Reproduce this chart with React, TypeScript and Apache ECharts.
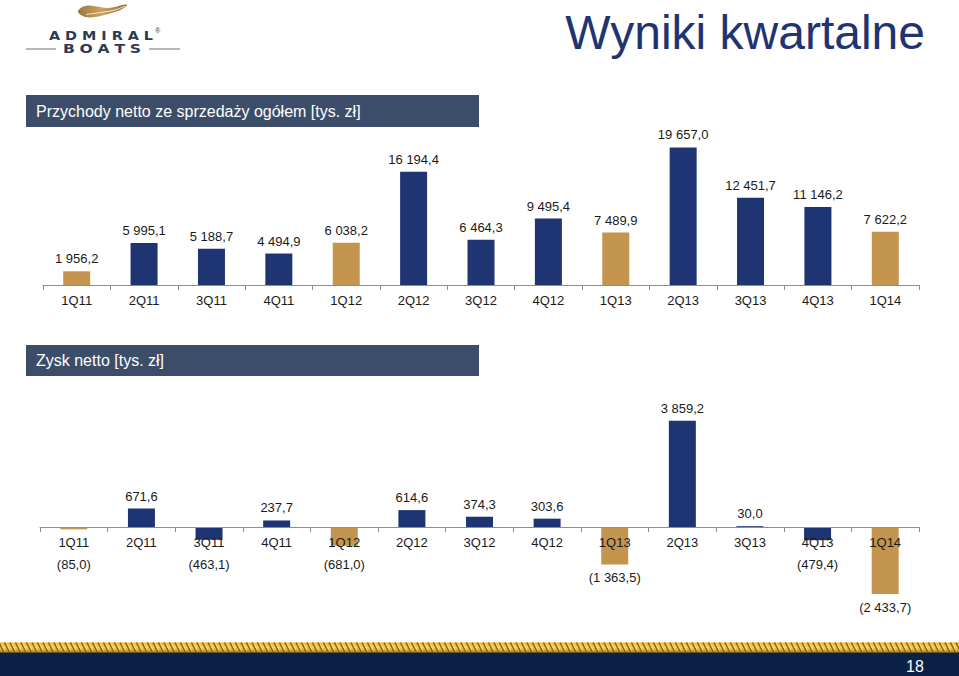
import React, { useEffect, useRef } from "react";
import * as echarts from "echarts";

const quarters = ["1Q11", "2Q11", "3Q11", "4Q11", "1Q12", "2Q12", "3Q12", "4Q12", "1Q13", "2Q13", "3Q13", "4Q13", "1Q14"];
const revenue = [1956.2, 5995.1, 5188.7, 4494.9, 6038.2, 16194.4, 6464.3, 9495.4, 7489.9, 19657.0, 12451.7, 11146.2, 7622.2];
const netProfit = [-85.0, 671.6, -463.1, 237.7, -681.0, 614.6, 374.3, 303.6, -1363.5, 3859.2, 30.0, -479.4, -2433.7];
const titleText = "Wyniki kwartalne";
const revenueHeader = "Przychody netto ze sprzedaży ogółem [tys. zł]";
const profitHeader = "Zysk netto [tys. zł]";
const pageNumber = "18";
const logoTop = "ADMIRAL";
const logoBottom = "BOATS";

const NAVY = "#1f3472";
const GOLD = "#c4954f";
const HEADER = "#3c4d69";
const TEXT = "#1a1a1a";
const FONT = "'Liberation Sans', Arial, sans-serif";

const P_GRID_H = 178.75;
const P_MIN = -2500;
const P_MAX = 4000;

function fmt(v: number): string {
  const a = Math.abs(v).toFixed(1);
  const [i, d] = a.split(".");
  const ii = i.replace(/\B(?=(\d{3})+(?!\d))/g, " ");
  const s = ii + "," + d;
  return v < 0 ? `(${s})` : s;
}

const barColor = (q: string) => (q.startsWith("1Q") ? GOLD : NAVY);

let shapesRegistered = false;
function registerShapes() {
  if (shapesRegistered) return;
  shapesRegistered = true;
  const wave =
    "M0.7,8 C3,4 8,2 14,2.5 C22,3 28,6 36,4 C41,3 46,1 49.5,1.5 C46,6 40,8 34,9.5 C24,12 18,14 12,13.7 C6,13.5 2,11 0.7,8 Z";
  echarts.graphic.registerShape("wave", (echarts.graphic as any).extendPath(wave, {}));
  const streak = "M9,11 C18,9.5 28,9 36,7 C40,6 44,4.5 47,3";
  echarts.graphic.registerShape("streak", (echarts.graphic as any).extendPath(streak, {}));
  let d = "";
  for (let x = -12; x < 975; x += 5.5) d += `M${x},0 L${x + 5},10 `;
  echarts.graphic.registerShape("rope", (echarts.graphic as any).extendPath(d, {}));
  let h = "";
  for (let x = -10; x < 975; x += 5.5) h += `M${x},1 L${x + 3.5},8 `;
  echarts.graphic.registerShape("ropeHi", (echarts.graphic as any).extendPath(h, {}));
}

function measure(text: string, font: string): number {
  const c = document.createElement("canvas").getContext("2d");
  if (!c) return text.length * 8;
  c.font = font;
  return c.measureText(text).width;
}

function spacedLetters(text: string, x0: number, x1: number, y: number, size: number, sx: number, color: string) {
  const font = `bold ${size}px 'DejaVu Sans'`;
  const widths = text.split("").map((ch) => measure(ch, font) * sx);
  const total = widths.reduce((a, b) => a + b, 0);
  const gap = (x1 - x0 - total) / (text.length - 1);
  let x = x0;
  return text.split("").map((ch, i) => {
    const el = {
      type: "text",
      x,
      y,
      scaleX: sx,
      style: { text: ch, fill: color, font, textAlign: "left", textVerticalAlign: "middle" },
    };
    x += widths[i] + gap;
    return el;
  });
}

function buildOption(): any {
  const pxPer = P_GRID_H / (P_MAX - P_MIN);
  const zeroOffset = -(0 - P_MIN) * pxPer;
  const labelBase = { show: true, formatter: (p: any) => fmt(p.value), fontSize: 13, color: TEXT, fontFamily: FONT };

  const revData = revenue.map((v, i) => ({ value: v, itemStyle: { color: barColor(quarters[i]) } }));
  const profData = netProfit.map((v, i) => {
    const barPx = Math.abs(v) * pxPer;
    return {
      value: v,
      itemStyle: { color: barColor(quarters[i]) },
      label: v < 0 ? { position: "bottom", distance: Math.max(7, 30.5 - barPx) } : { position: "top", distance: 6 },
    };
  });

  const xAxisBase = {
    type: "category",
    data: quarters,
    axisLine: { onZero: false, lineStyle: { color: "#8d8d8d", width: 1 } },
    axisTick: { show: true, length: 5, lineStyle: { color: "#8d8d8d" } },
    axisLabel: { color: TEXT, fontSize: 13, fontFamily: FONT, margin: 9 },
    splitLine: { show: false },
    z: 5,
  };

  const graphics: any[] = [
    // title
    {
      type: "text",
      right: 34,
      top: 8,
      style: { text: titleText, fill: "#1f3470", font: `48px ${FONT}` },
    },
    // header bars
    { type: "rect", shape: { x: 26, y: 95, width: 453, height: 32 }, style: { fill: HEADER } },
    {
      type: "text",
      x: 36,
      y: 111,
      style: { text: revenueHeader, fill: "#ffffff", font: `16px ${FONT}`, textVerticalAlign: "middle" },
    },
    { type: "rect", shape: { x: 26, y: 345, width: 453, height: 31 }, style: { fill: HEADER } },
    {
      type: "text",
      x: 36,
      y: 360.5,
      style: { text: profitHeader, fill: "#ffffff", font: `16px ${FONT}`, textVerticalAlign: "middle" },
    },
    // logo
    {
      type: "wave",
      x: 77,
      y: 3,
      scaleX: 1.02,
      scaleY: 1.05,
      style: {
        fill: new (echarts.graphic as any).LinearGradient(0, 0, 1, 0, [
          { offset: 0, color: "#a07a3c" },
          { offset: 0.5, color: "#c9a264" },
          { offset: 1, color: "#8c6a34" },
        ]),
      },
    },
    { type: "streak", x: 77, y: 3, scaleX: 1.02, scaleY: 1.05, style: { fill: null, stroke: "#f3e4c6", lineWidth: 1 } },
    { type: "line", shape: { x1: 26, y1: 49, x2: 56, y2: 49 }, style: { stroke: "#8b909a", lineWidth: 1.3 } },
    { type: "line", shape: { x1: 149, y1: 49, x2: 180, y2: 49 }, style: { stroke: "#8b909a", lineWidth: 1.3 } },
    ...spacedLetters(logoTop, 49, 153, 36, 12, 1.2, "#2b3a55"),
    ...spacedLetters(logoBottom, 63, 141, 48.5, 13, 1.2, "#2b3a55"),
    { type: "text", x: 155, y: 30, style: { text: "®", fill: "#2b3a55", font: `7px ${FONT}`, textVerticalAlign: "middle" } },
    // footer
    { type: "rect", shape: { x: 0, y: 652, width: 959, height: 24 }, style: { fill: "#0c2146" } },
    {
      type: "rect",
      shape: { x: 0, y: 642.5, width: 959, height: 10 },
      style: {
        fill: new (echarts.graphic as any).LinearGradient(0, 0, 0, 1, [
          { offset: 0, color: "#e8b830" },
          { offset: 0.5, color: "#f4cf52" },
          { offset: 1, color: "#b7861a" },
        ]),
      },
    },
    { type: "rope", x: 0, y: 642.5, style: { fill: null, stroke: "#8a6410", lineWidth: 1.5 } },
    { type: "ropeHi", x: 0, y: 642.5, style: { fill: null, stroke: "#fbe58a", lineWidth: 0.8 } },
    {
      type: "text",
      x: 915,
      y: 666,
      style: { text: pageNumber, fill: "#ffffff", font: `16px ${FONT}`, textAlign: "center", textVerticalAlign: "middle" },
    },
  ];

  return {
    animation: false,
    backgroundColor: "#ffffff",
    textStyle: { fontFamily: FONT },
    grid: [
      { left: 43, right: 40, top: 145, height: 140 },
      { left: 40, right: 40, top: 417, height: P_GRID_H },
    ],
    xAxis: [
      { ...xAxisBase, gridIndex: 0 },
      { ...xAxisBase, gridIndex: 1, position: "bottom", offset: zeroOffset },
    ],
    yAxis: [
      { type: "value", gridIndex: 0, min: 0, max: 20000, show: false },
      { type: "value", gridIndex: 1, min: P_MIN, max: P_MAX, show: false },
    ],
    series: [
      {
        type: "bar",
        xAxisIndex: 0,
        yAxisIndex: 0,
        barWidth: 27,
        data: revData,
        label: { ...labelBase, position: "top", distance: 6 },
      },
      {
        type: "bar",
        xAxisIndex: 1,
        yAxisIndex: 1,
        barWidth: 27,
        data: profData,
        label: { ...labelBase },
      },
    ],
    graphic: { elements: graphics },
  };
}

export default function App() {
  const ref = useRef<HTMLDivElement>(null);
  useEffect(() => {
    if (!ref.current) return;
    registerShapes();
    const chart = echarts.init(ref.current, null, { renderer: "svg" });
    chart.setOption(buildOption());
    return () => chart.dispose();
  }, []);
  return (
    <div
      ref={ref}
      style={{ position: "fixed", left: 0, top: 0, width: 959, height: 676, background: "#ffffff" }}
    />
  );
}
